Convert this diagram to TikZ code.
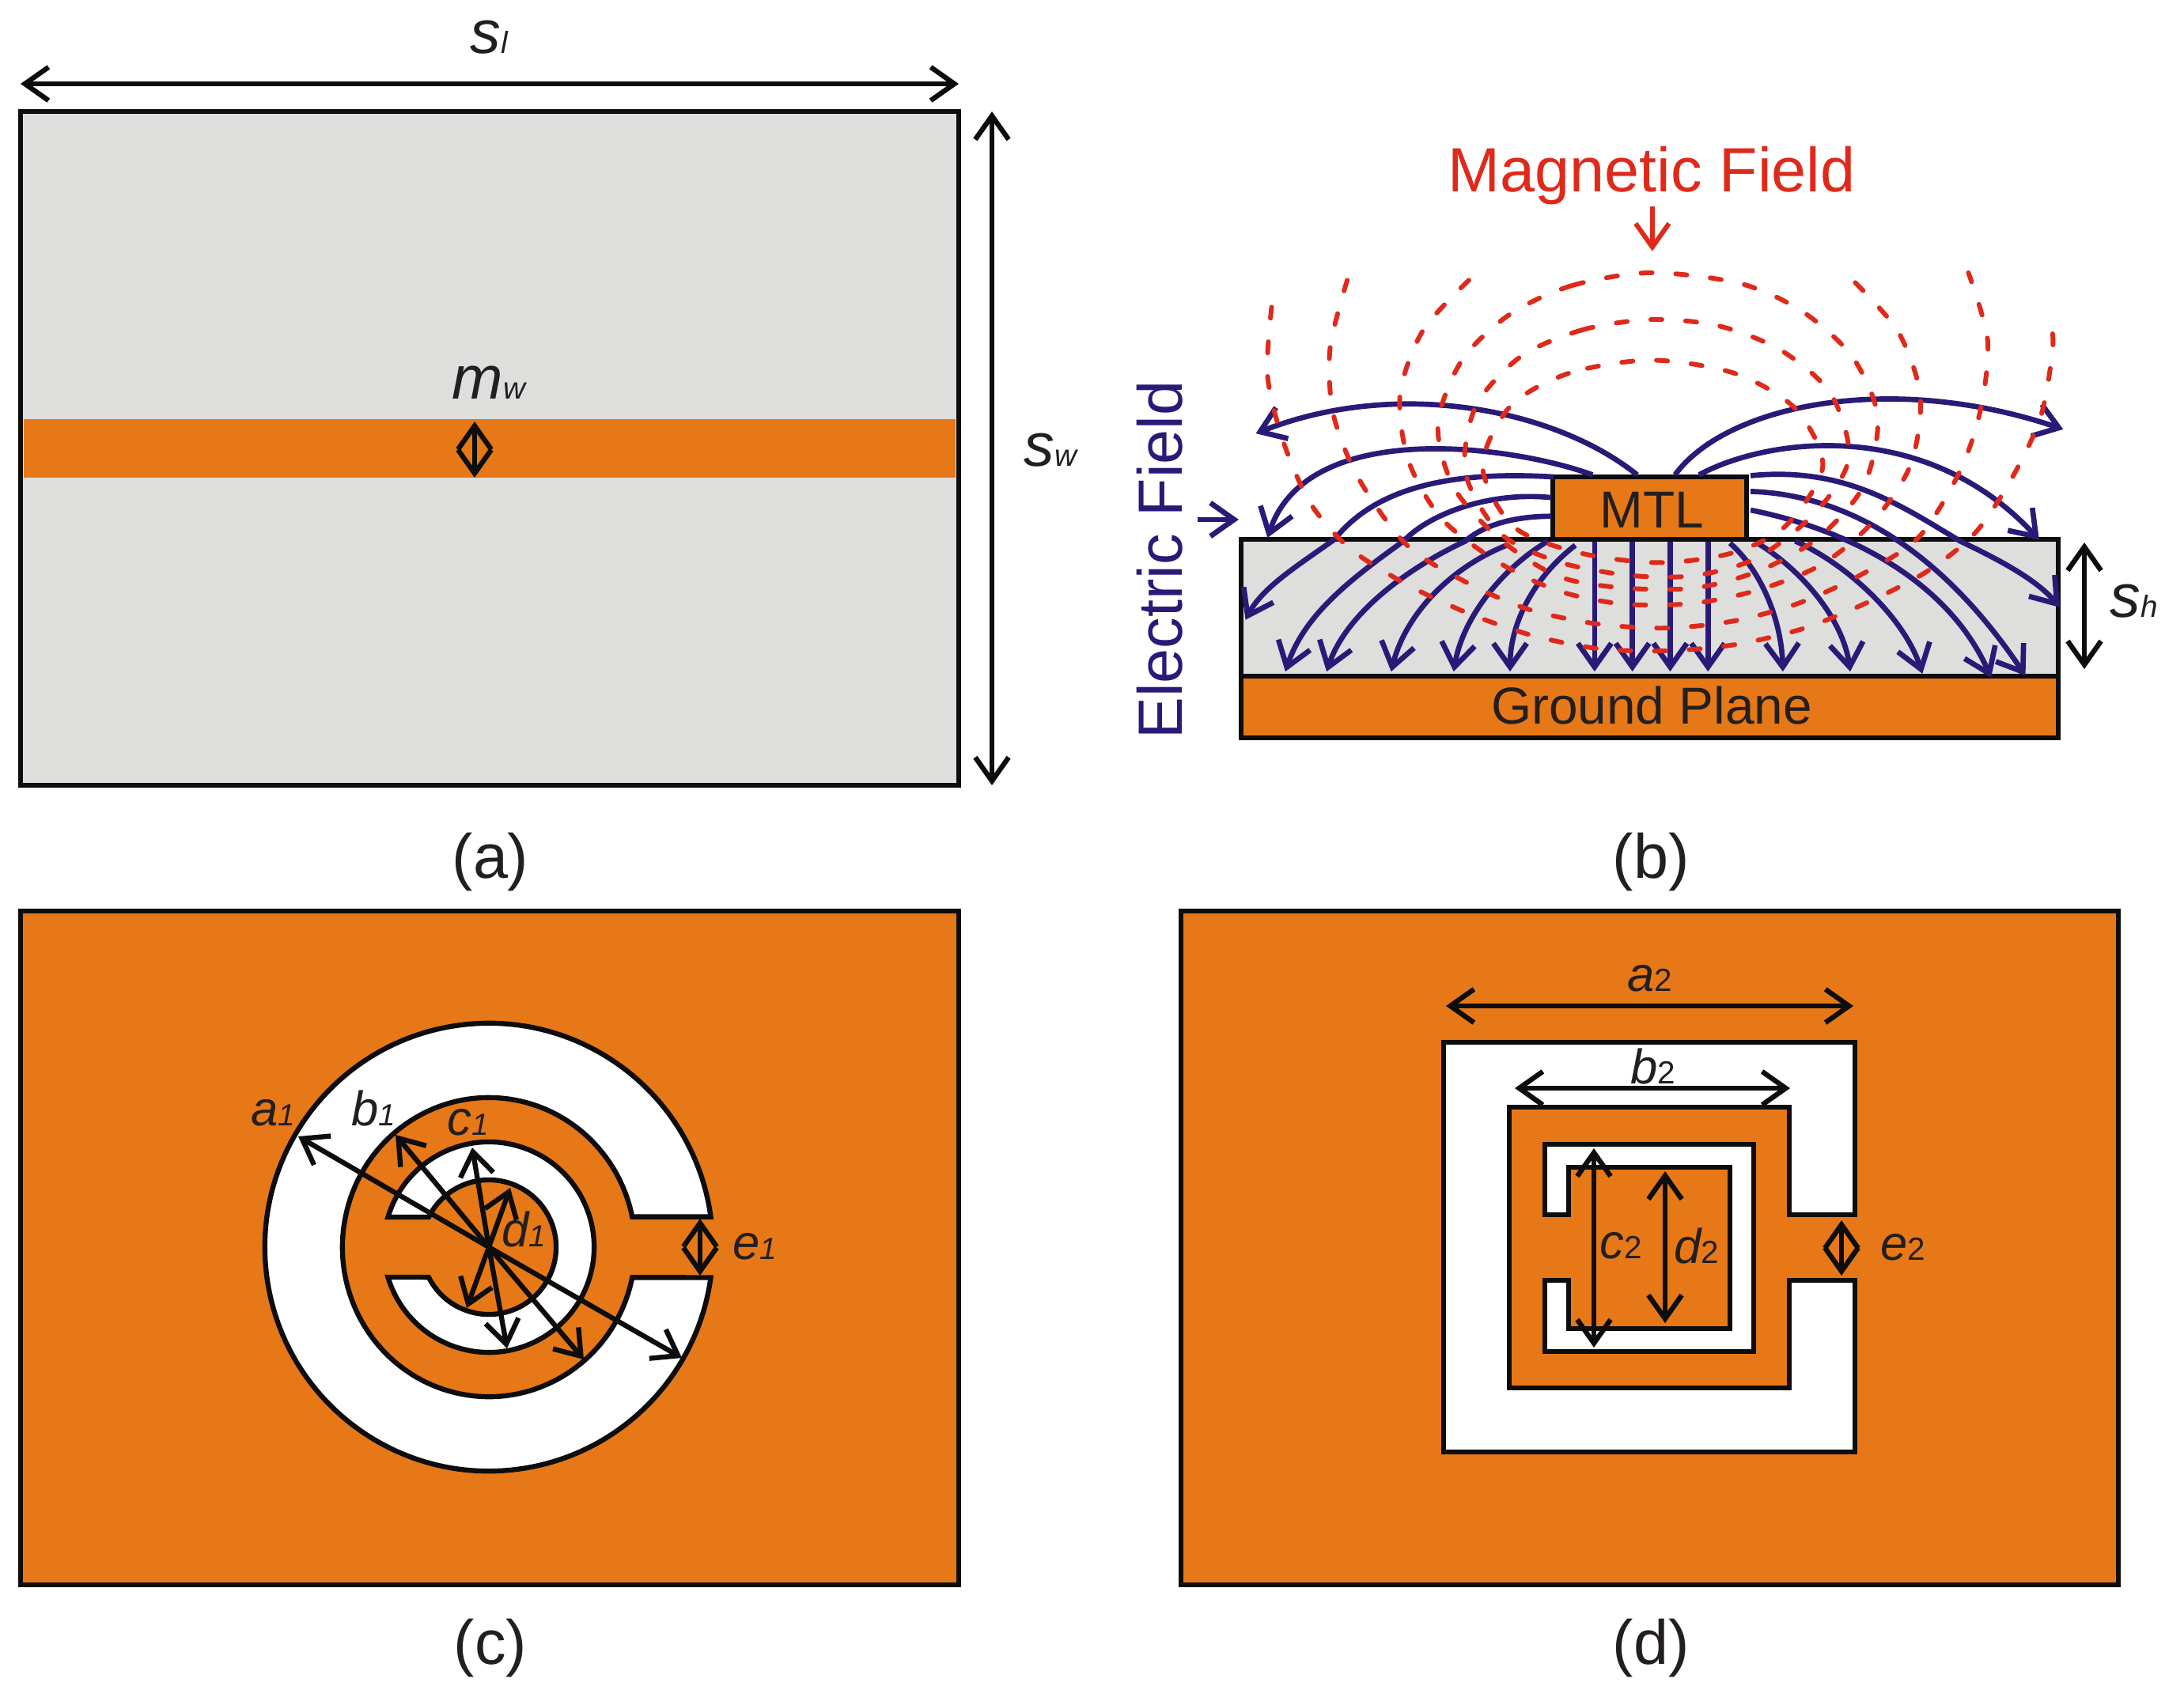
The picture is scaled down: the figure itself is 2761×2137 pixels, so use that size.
\documentclass[tikz,border=0pt]{standalone}
\usepackage{fontspec}
\setmainfont{Liberation Sans}
\usetikzlibrary{arrows.meta}

\definecolor{patch}{HTML}{E77817}
\definecolor{substrate}{HTML}{DEDEDD}
\definecolor{efield}{HTML}{2A1A78}
\definecolor{hfield}{HTML}{DF2A1B}
\definecolor{ink}{HTML}{0D0D0D}
\definecolor{txt}{HTML}{231F20}

% Letter with its index, both on one baseline
\newcommand{\biglab}[2]{\fontsize{22}{26}\selectfont\itshape #1\fontsize{11}{13}\selectfont #2}
\newcommand{\midlab}[2]{\fontsize{17.5}{20}\selectfont\itshape #1\fontsize{11}{13}\selectfont #2}
\newcommand{\midlabup}[2]{\fontsize{17.5}{20}\selectfont\itshape #1\fontsize{11.5}{13}\selectfont\upshape #2}

\tikzset{
    outline/.style={draw=ink, line width=1.8pt},
    dimline/.style={<->, ink, line width=1.8pt},
    eline/.style={efield, line width=1.9pt},
    hline/.style={hfield, line width=1.7pt, line cap=round, dash pattern=on 4pt off 8.5pt},
    lab/.style={anchor=base, inner sep=0pt, text=txt},
    large/.style={lab, font=\fontsize{22.5}{26}\selectfont},
    plate/.style={lab, font=\fontsize{18.7}{22}\selectfont}
}

\begin{document}
\begin{tikzpicture}[>={Straight Barb[length=8.5pt,width=12pt]}, x=0.01cm, y=-0.01cm]
    \useasboundingbox (0,0) rectangle (2761,2137);

    % Draw substrate with line on top (a)
    \fill[substrate] (26,141) rectangle (1212,993);
    \fill[patch] (30,530) rectangle (1208,604);
    \draw[outline] (26,141) rectangle (1212,993);
    \draw[dimline] (26,106) -- (1212,106);
    \draw[dimline] (1254,141) -- (1254,993);
    \draw[dimline] (600,533) -- (600,604);
    \node[lab] (sl) at (618,68) {\biglab{s}{l}};
    \node[lab] (sw) at (1328,590) {\biglab{s}{w}};
    \node[lab] (mw) at (618,505) {\biglab{m}{w}};
    \node[large] (capa) at (620,1110) {(a)};

    % Draw cross section (b)
    \fill[substrate] (1569,682) rectangle (2602,855);
    \fill[patch] (1569,855) rectangle (2602,933);
    \draw[outline] (1569,682) rectangle (2602,855);
    \draw[outline] (1569,855) rectangle (2602,933);
    \draw[outline, fill=patch] (1963,603) rectangle (2208,682);
    \node[plate] (mtl) at (2088,667) {MTL};
    \node[plate] (gnd) at (2088,915) {Ground Plane};
    \node[large, text=hfield] (hname) at (2088,243) {Magnetic Field};
    \node[large, text=efield, rotate=90] (ename) at (1494,708) {Electric Field};
    \draw[dimline] (2635,686) -- (2635,846);
    \node[lab] (sh) at (2698,780) {\biglab{s}{h}};
    \node[large] (capb) at (2087,1110) {(b)};

    % Field lines, read in the scale of this panel
    \begin{scope}[xshift=14cm, yshift=-1.5cm, x=0.00868cm, y=-0.00523cm]
        \coordinate (hfoot) at (792,212);
        \coordinate (htip) at (792,320);
        \coordinate (efoot) at (130,968);
        \coordinate (etip) at (190,968);
        \draw[->, hfield, line width=1.7pt] (hfoot) -- (htip);
        \draw[->, eline] (efoot) -- (etip);

        % Draw electric field
        \draw[->, eline] (770,860) .. controls (650,700) and (420,626) .. (215,760);
        \draw[->, eline] (705,860) .. controls (590,790) and (290,720) .. (232,1012);
        \draw[->, eline] (648,865) .. controls (500,850) and (390,890) .. (330,1015) .. controls (280,1075) and (225,1130) .. (200,1210);
        \draw[->, eline] (645,915) .. controls (560,900) and (470,950) .. (430,1020) .. controls (350,1115) and (285,1200) .. (258,1335);
        \draw[->, eline] (645,960) .. controls (580,960) and (540,990) .. (520,1020) .. controls (430,1090) and (345,1200) .. (318,1335);
        \draw[->, eline] (580,1030) .. controls (490,1090) and (430,1210) .. (412,1335);
        \draw[->, eline] (640,1020) .. controls (570,1090) and (515,1210) .. (503,1335);
        \draw[->, eline] (680,1030) .. controls (625,1100) and (585,1210) .. (585,1335);
        \foreach \x in {708,763,818,873}
            \draw[->, eline] (\x,1022) -- (\x,1335);
        \draw[->, eline] (905,1025) .. controls (950,1090) and (980,1210) .. (982,1335);
        \draw[->, eline] (945,1025) .. controls (1010,1090) and (1070,1210) .. (1080,1335);
        \draw[->, eline] (1000,1020) .. controls (1080,1080) and (1160,1210) .. (1185,1340);
        \draw[->, eline] (935,945) .. controls (1100,1000) and (1230,1140) .. (1285,1350);
        \draw[->, eline] (935,900) .. controls (1110,910) and (1240,1110) .. (1335,1345);
        \draw[->, eline] (935,862) .. controls (1070,840) and (1150,930) .. (1240,1020) .. controls (1290,1060) and (1350,1110) .. (1385,1180);
        \draw[->, eline] (860,860) .. controls (960,770) and (1190,720) .. (1355,1017);
        \draw[->, eline] (825,860) .. controls (900,690) and (1140,610) .. (1390,750);

        % Draw magnetic field
        \draw[hline] plot[smooth] coordinates {(238,455) (232,620) (255,780) (295,930) (352,1038) (435,1125) (525,1195) (618,1248) (715,1280) (815,1285) (912,1270) (1010,1232) (1100,1172) (1190,1095) (1262,1000) (1318,860) (1358,715) (1375,545) (1368,465)};
        \draw[hline] plot[smooth] coordinates {(348,390) (323,555) (328,715) (365,870) (435,1030) (522,1120) (612,1185) (712,1220) (812,1230) (910,1213) (1005,1170) (1097,1100) (1180,1010) (1240,850) (1270,700) (1280,535) (1252,372)};
        \draw[hline] plot[smooth] coordinates {(525,390) (458,512) (425,665) (437,825) (485,965) (567,1070) (655,1140) (750,1172) (853,1170) (948,1137) (1040,1075) (1115,970) (1168,835) (1182,670) (1150,515) (1085,392)};
        \draw[hline] plot[smooth cycle] coordinates {(790,372) (675,403) (585,472) (515,583) (480,738) (503,890) (570,1015) (655,1105) (750,1133) (855,1133) (950,1090) (1035,1010) (1100,885) (1120,720) (1083,575) (1010,465) (920,398)};
        \draw[hline] plot[smooth cycle] coordinates {(790,485) (690,510) (600,575) (535,695) (520,855) (570,1000) (655,1070) (760,1103) (855,1103) (945,1060) (1030,950) (1078,820) (1052,665) (980,560) (888,500)};
        \draw[hline] plot[smooth cycle] coordinates {(790,583) (670,615) (585,695) (545,840) (590,985) (685,1048) (800,1072) (905,1050) (985,985) (1040,840) (1000,700) (912,615)};
    \end{scope}

    % Draw circular resonator (c)
    \coordinate (cc) at (618,1577);
    \def\Ra{2.83cm}
    \def\Rb{1.85cm and 1.89cm}
    \def\Rc{1.33cm}
    \def\Rd{0.85cm}
    \fill[patch] (26,1152) rectangle (1212,2004);
    \draw[outline] (26,1152) rectangle (1212,2004);
    \draw[outline, fill=white] ([shift={(7.8:\Ra)}]cc) arc[start angle=7.8, end angle=352.2, radius=\Ra]
        -- ([shift={(-11.7:\Rb)}]cc) arc[start angle=348.3, end angle=11.7, x radius=1.85cm, y radius=1.89cm] -- cycle;
    \draw[outline, fill=white] ([shift={(163.4:\Rc)}]cc) arc[start angle=163.4, end angle=-163.4, radius=\Rc]
        -- ([shift={(-153.4:\Rd)}]cc) arc[start angle=-153.4, end angle=153.4, radius=\Rd] -- cycle;
    \draw[dimline] (377,1437) -- (cc) -- (862,1717);
    \draw[dimline] (500,1435) -- (cc) -- (738,1719);
    \draw[dimline] (597,1451) -- (cc) -- (641,1705);
    \draw[dimline] (645,1502) -- (cc) -- (590,1654);
    \draw[dimline] (885,1541) -- (885,1613);
    \node[lab] (a1) at (345,1423) {\midlab{a}{1}};
    \node[lab] (b1) at (472,1423) {\midlab{b}{1}};
    \node[lab] (c1) at (592,1435) {\midlab{c}{1}};
    \node[lab] (d1) at (662,1576) {\midlab{d}{1}};
    \node[lab] (e1) at (954,1592) {\midlab{e}{1}};
    \node[large] (capc) at (620,2104) {(c)};

    % Draw square resonator (d)
    \fill[patch] (1493,1152) rectangle (2678,2004);
    \draw[outline] (1493,1152) rectangle (2678,2004);
    \draw[outline, fill=white] (2345,1536) -- (2345,1318) -- (1825,1318) -- (1825,1836) -- (2345,1836) -- (2345,1619)
        -- (2262,1619) -- (2262,1755) -- (1908,1755) -- (1908,1400) -- (2262,1400) -- (2262,1536) -- cycle;
    \draw[outline, fill=white] (1953,1536) -- (1953,1447) -- (2217,1447) -- (2217,1709) -- (1953,1709) -- (1953,1619)
        -- (1983,1619) -- (1983,1680) -- (2187,1680) -- (2187,1476) -- (1983,1476) -- (1983,1536) -- cycle;
    \draw[dimline] (1828,1272) -- (2343,1272);
    \draw[dimline] (1915,1376) -- (2263,1376);
    \draw[dimline] (2015,1452) -- (2015,1704);
    \draw[dimline] (2105,1481) -- (2105,1673);
    \draw[dimline] (2328,1543) -- (2328,1613);
    \node[lab] (a2) at (2086,1253) {\midlabup{a}{2}};
    \node[lab] (b2) at (2090,1370) {\midlabup{b}{2}};
    \node[lab] (c2) at (2049,1591) {\midlabup{c}{2}};
    \node[lab] (d2) at (2145,1597) {\midlabup{d}{2}};
    \node[lab] (e2) at (2406,1593) {\midlabup{e}{2}};
    \node[large] (capd) at (2087,2104) {(d)};
\end{tikzpicture}
\end{document}
